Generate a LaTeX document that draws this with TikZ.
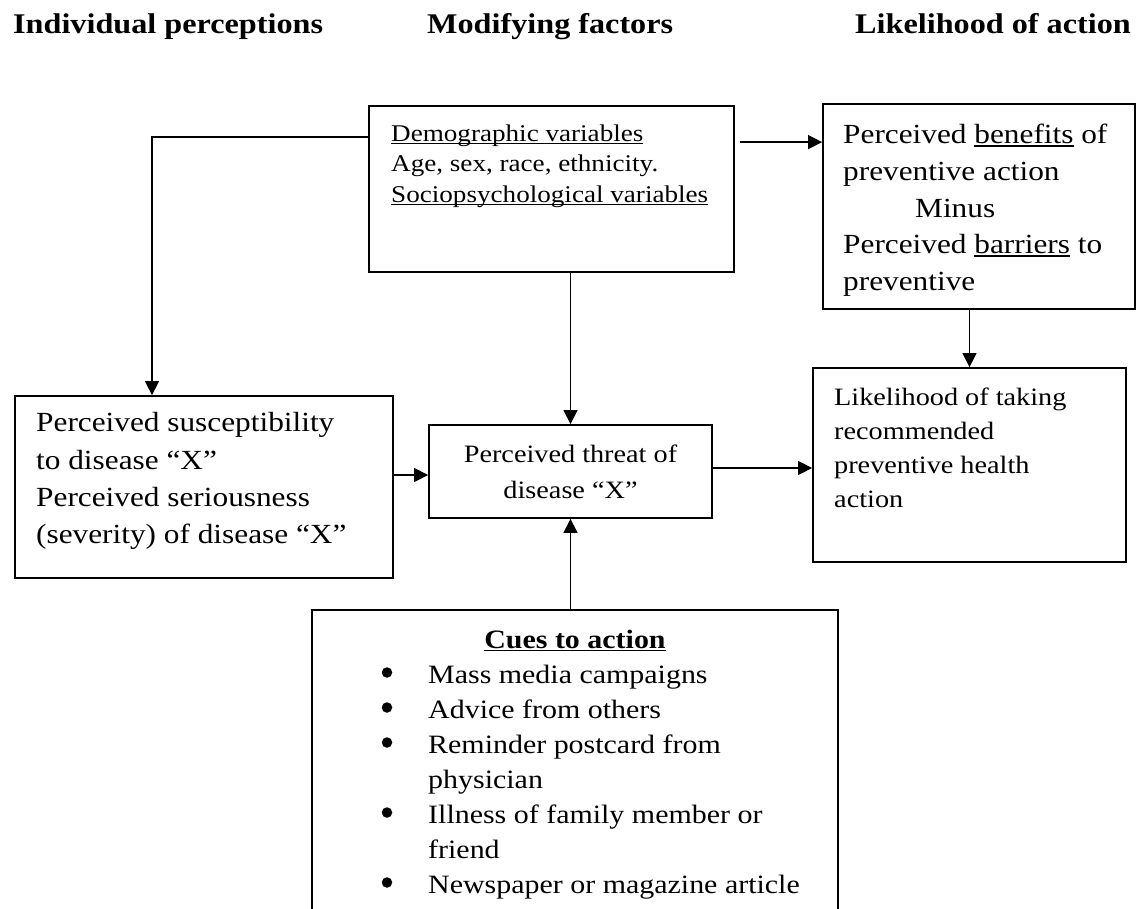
\documentclass[tikz,border=0pt]{standalone}
\usepackage{fontspec}
\setmainfont{Liberation Serif}[FakeStretch=1.13]
\usetikzlibrary{arrows.meta,calc}
\newcommand{\myul}[1]{{\setbox0\hbox{#1}\rlap{\rule[-0.13em]{\wd0}{0.06em}}\box0\relax}}
\newcommand{\fsz}[1]{\fontsize{#1}{#1}\selectfont}
\tikzset{
  box/.style={draw, line width=1.8pt, inner sep=0pt, anchor=center},
  conn/.style={line width=1.4pt, -{Triangle[length=14pt,width=14pt]}},
  txt/.style={anchor=base west, inner sep=0pt},
  ctxt/.style={anchor=base, inner sep=0pt},
  bul/.style={circle, fill=black, inner sep=0pt, minimum size=10.5pt},
}
\begin{document}
\begin{tikzpicture}[x=1pt,y=-1pt]
\clip (0,0) rectangle (1139,908);
\fill[white] (0,0) rectangle (1139,908);

% headings
\node[txt, font=\bfseries\fsz{28.5}] (h1) at (13,33) {Individual perceptions};
\node[txt, font=\bfseries\fsz{28.5}] (h2) at (427,33) {Modifying factors};
\node[txt, font=\bfseries\fsz{28.5}] (h3) at (855,33) {Likelihood of action};

% boxes
\node[box, minimum width=365pt, minimum height=166pt] (demo) at (551.5,189) {};
\node[box, minimum width=312pt, minimum height=205pt] (ben) at (979,206.5) {};
\node[box, minimum width=313pt, minimum height=194pt] (lik) at (969.5,465) {};
\node[box, minimum width=378pt, minimum height=182pt] (perc) at (204,487) {};
\node[box, minimum width=283pt, minimum height=93pt] (thr) at (570.5,471.5) {};
\node[box, minimum width=526pt, minimum height=340pt] (cues) at (575,780) {};

% demographic text
\node[txt, font=\fsz{24}] (d1) at (391,141) {\myul{Demographic variables}};
\node[txt, font=\fsz{24}] (d2) at (391,171) {Age, sex, race, ethnicity.};
\node[txt, font=\fsz{24}] (d3) at (391,202) {\myul{Sociopsychological variables}};

% benefits text
\node[txt, font=\fsz{27.7}] (b1) at (843,143) {Perceived \myul{benefits} of};
\node[txt, font=\fsz{27.7}] (b2) at (843,180) {preventive action};
\node[txt, font=\fsz{27.7}] (b3) at (915,217) {Minus};
\node[txt, font=\fsz{27.7}] (b4) at (843,253) {Perceived \myul{barriers} to};
\node[txt, font=\fsz{27.7}] (b5) at (843,290) {preventive};

% likelihood text
\node[txt, font=\fsz{25}] (l1) at (834,405) {Likelihood of taking};
\node[txt, font=\fsz{25}] (l2) at (834,439) {recommended};
\node[txt, font=\fsz{25}] (l3) at (834,473) {preventive health};
\node[txt, font=\fsz{25}] (l4) at (834,507) {action};

% perceptions text
\node[txt, font=\fsz{27.7}] (p1) at (36,431) {Perceived susceptibility};
\node[txt, font=\fsz{27.7}] (p2) at (36,469) {to disease “X”};
\node[txt, font=\fsz{27.7}] (p3) at (36,506) {Perceived seriousness};
\node[txt, font=\fsz{27.7}] (p4) at (36,543) {(severity) of disease “X”};

% threat text
\node[ctxt, font=\fsz{25}] (t1) at (570.5,462) {Perceived threat of};
\node[ctxt, font=\fsz{25}] (t2) at (570.5,498) {disease “X”};

% cues text
\node[ctxt, font=\bfseries\fsz{26.5}] (c0) at (575,648) {\myul{Cues to action}};
\node[bul] (k1) at (387,672.5) {};
\node[txt, font=\fsz{26.5}] (c1) at (428,683) {Mass media campaigns};
\node[bul] (k2) at (387,707.5) {};
\node[txt, font=\fsz{26.5}] (c2) at (428,718) {Advice from others};
\node[bul] (k3) at (387,742.5) {};
\node[txt, font=\fsz{26.5}] (c3) at (428,753) {Reminder postcard from};
\node[txt, font=\fsz{26.5}] (c3b) at (428,788) {physician};
\node[bul] (k4) at (387,812.5) {};
\node[txt, font=\fsz{26.5}] (c4) at (428,823) {Illness of family member or};
\node[txt, font=\fsz{26.5}] (c4b) at (428,858) {friend};
\node[bul] (k5) at (387,882.5) {};
\node[txt, font=\fsz{26.5}] (c5) at (428,893) {Newspaper or magazine article};

% connectors
\draw[conn] ($(demo.north west)+(0,32)$) -| ($(perc.north)+(-52,0)$);
\draw[conn] ($(demo.north east)+(5,37)$) -- ($(ben.north west)+(0,39)$);
\draw[conn] (demo.south -| thr.north) -- (thr.north);
\draw[conn] (ben.south -| lik.north) -- (lik.north);
\draw[conn] ($(perc.east)+(0,-12)$) -- ($(thr.west)+(0,3.5)$);
\draw[conn] ($(thr.east)+(0,-3.5)$) -- ($(lik.west)+(0,3)$);
\draw[conn] (cues.north -| thr.south) -- (thr.south);
\end{tikzpicture}
\end{document}
